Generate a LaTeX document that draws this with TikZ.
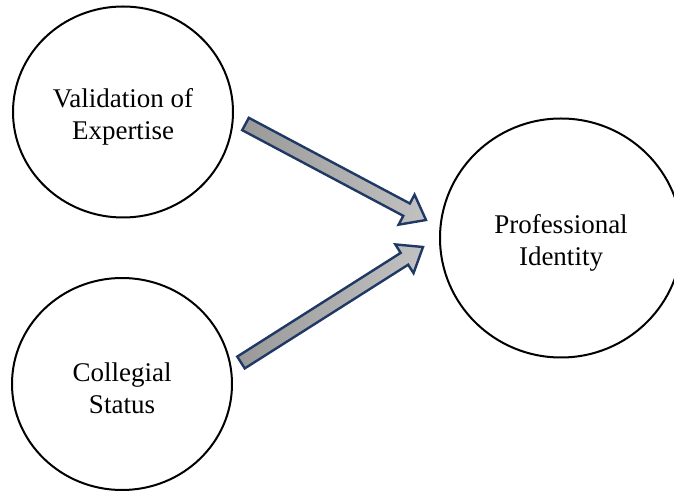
\documentclass[tikz,border=0pt]{standalone}
\usepackage{fontspec}
\setmainfont{Liberation Serif}
\usetikzlibrary{shapes.geometric,calc}
\definecolor{arrowblue}{HTML}{1F3864}
\tikzset{
  concept/.style={ellipse,draw,line width=1pt,inner sep=0pt,align=center,
    text height=30pt,font=\fontsize{13.5}{16}\selectfont},
  blockarrow/.style={draw=arrowblue,line width=1.2pt,line join=miter,
    left color=black!40,right color=black!24},
}

\begin{document}
\begin{tikzpicture}[x=0.5pt,y=-0.5pt]
\def\shaft{3.5pt}   % half shaft width
\def\head{8.5pt}    % half head width
\def\headlen{11pt}  % head length
\useasboundingbox (0,0) rectangle (674,491);
\node[concept,minimum width=110pt,minimum height=105.5pt] (val) at (123,112) {Validation of\\Expertise};
\node[concept,minimum width=110pt,minimum height=106pt] (col) at (122,384) {Collegial\\Status};
\node[concept,minimum width=121pt,minimum height=119.5pt] (prof) at (561,238) {Professional\\Identity};
\coordinate (val-tail) at (245.5,124);
\coordinate (col-tail) at (241,362.5);
\coordinate (prof-in1) at (426,220);
\coordinate (prof-in2) at (423,247);
\foreach \s/\t in {val-tail/prof-in1,col-tail/prof-in2}{
  \coordinate (h) at ($(\t)!\headlen!(\s)$);
  \draw[blockarrow] ($(\s)!\shaft!90:(\t)$) -- ($(h)!\shaft!90:(\t)$) -- ($(h)!\head!90:(\t)$)
    -- (\t) -- ($(h)!\head!-90:(\t)$) -- ($(h)!\shaft!-90:(\t)$) -- ($(\s)!\shaft!-90:(\t)$) -- cycle;
}
\end{tikzpicture}
\end{document}
